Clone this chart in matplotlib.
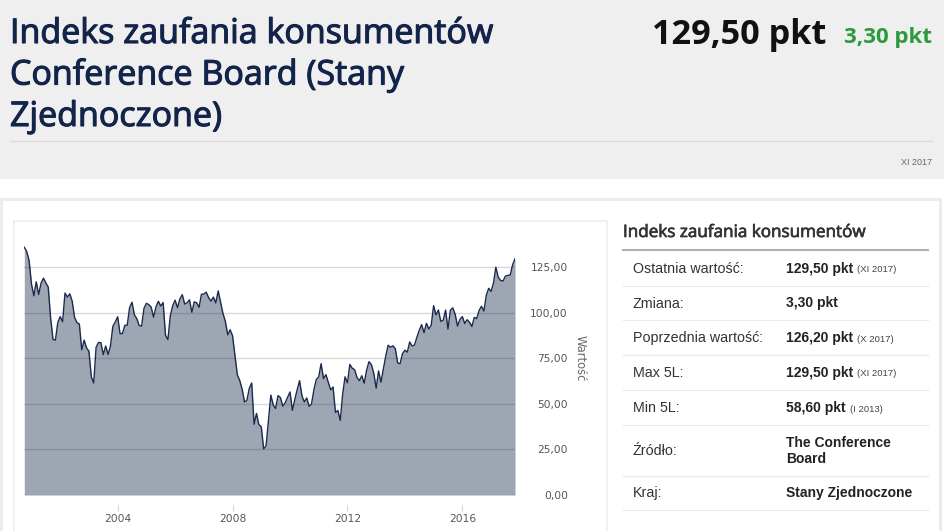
import matplotlib
matplotlib.use("Agg")
import matplotlib.pyplot as plt
import matplotlib.patheffects as pe
from matplotlib.patches import Rectangle
from matplotlib.lines import Line2D
from matplotlib.ticker import FixedLocator, FuncFormatter

W, H = 945, 531

# monthly index values, Oct 2000 .. Nov 2017
START_YEAR, START_MONTH = 2000, 10
VALUES = [
    135.8, 133.5, 128.6,
    115.7, 109.2, 116.9, 109.9, 116.1, 118.9, 116.3, 114.0, 97.0, 85.3, 84.9, 94.6,
    97.8, 95.0, 110.7, 108.5, 110.3, 106.3, 97.4, 94.5, 93.7, 79.6, 84.9, 80.7,
    78.8, 64.8, 61.4, 81.0, 83.6, 83.5, 77.0, 81.7, 77.0, 81.7, 92.5, 94.8,
    97.7, 88.5, 88.5, 93.0, 93.1, 102.8, 105.7, 98.7, 96.7, 92.9, 92.6, 102.3,
    105.1, 104.4, 103.0, 97.5, 103.1, 106.2, 103.6, 105.5, 87.5, 85.2, 98.3, 103.8,
    106.8, 102.7, 107.5, 109.8, 104.7, 105.4, 107.0, 100.2, 105.9, 105.4, 102.9, 110.0,
    110.2, 111.2, 108.2, 106.3, 108.5, 105.3, 111.9, 105.6, 99.5, 95.2, 87.8, 90.6,
    87.3, 76.4, 65.9, 62.8, 58.1, 51.0, 51.9, 58.5, 61.4, 38.8, 44.7, 38.6,
    37.4, 25.3, 26.9, 40.8, 54.8, 49.3, 47.4, 54.5, 53.4, 48.7, 50.6, 53.6,
    56.5, 46.4, 52.3, 57.7, 62.7, 54.3, 51.0, 53.2, 48.6, 49.9, 57.8, 63.4,
    64.8, 72.0, 63.8, 66.0, 61.7, 57.6, 59.2, 45.2, 46.4, 40.9, 55.2, 64.8,
    61.5, 71.6, 69.5, 68.7, 64.4, 62.7, 65.4, 61.3, 68.4, 73.1, 71.5, 66.7,
    58.6, 68.0, 61.9, 69.0, 76.2, 82.1, 81.0, 81.8, 80.2, 72.4, 72.0, 77.5,
    79.4, 78.3, 83.9, 81.7, 82.2, 86.4, 90.3, 93.4, 89.0, 94.1, 91.0, 93.1,
    103.8, 98.8, 101.4, 95.2, 95.8, 101.4, 91.0, 101.3, 102.6, 99.1, 92.6, 96.3,
    97.8, 94.0, 96.1, 94.7, 92.4, 97.4, 96.7, 101.1, 103.5, 100.8, 109.4, 113.3,
    111.6, 116.1, 124.9, 119.4, 117.6, 117.3, 120.0, 120.4, 120.6, 126.2, 129.5,
]

TITLE_LINES = ["Indeks zaufania konsumentów", "Conference Board (Stany", "Zjednoczone)"]
LAST_VALUE = "129,50 pkt"
CHANGE = "3,30 pkt"
PERIOD = "XI 2017"

Y_TICKS = [0, 25, 50, 75, 100, 125]
X_TICKS = [2004, 2008, 2012, 2016]
Y_LABEL = "Wartość"

TABLE_TITLE = "Indeks zaufania konsumentów"
ROW_LABELS = ["Ostatnia wartość:", "Zmiana:", "Poprzednia wartość:", "Max 5L:",
              "Min 5L:", "Źródło:", "Kraj:"]
ROW_VALUES = ["129,50 pkt", "3,30 pkt", "126,20 pkt", "129,50 pkt", "58,60 pkt",
              "The Conference\nBoard", "Stany Zjednoczone"]
ROW_NOTES = ["(XI 2017)", "", "(X 2017)", "(XI 2017)", "(I 2013)", "", ""]

# layout in pixels
ROW_LINES = [250, 285.5, 319.5, 354.5, 389.5, 424.5, 475.5, 509.5]

NAVY = "#13244a"
TITLE_FONT = ["Open Sans", "DejaVu Sans"]
TABLE_FONT = ["Liberation Sans", "DejaVu Sans"]


def fx(x):
    return x / W


def fy(y):
    return 1 - y / H


def prect(fig, x0, y0, x1, y1, **kw):
    fig.patches.append(Rectangle((fx(x0), fy(y1)), (x1 - x0) / W, (y1 - y0) / H,
                                 transform=fig.transFigure, **kw))


def hline(fig, x0, x1, y, **kw):
    fig.lines.append(Line2D([fx(x0), fx(x1)], [fy(y), fy(y)],
                            transform=fig.transFigure, **kw))


def medium(color, width):
    # fake a medium weight: regular glyphs with a thin outline
    return [pe.withStroke(linewidth=width, foreground=color)]


def main():
    fig = plt.figure(figsize=(W / 100, H / 100), dpi=100)
    fig.patch.set_facecolor("white")

    # header band
    prect(fig, 0, 0, W, 179, facecolor="#efefef", edgecolor="none")
    hline(fig, 10, 932, 140.5, color="#d9d9d9", lw=0.8)
    for i, line in enumerate(TITLE_LINES):
        fig.text(fx(10), fy(43 + i * 41.5), line, family=TITLE_FONT,
                 fontsize=24.5, color=NAVY, va="baseline", ha="left",
                 path_effects=medium(NAVY, 0.8))
    fig.text(fx(932), fy(43), CHANGE, family=TITLE_FONT, weight="bold",
             fontsize=16, color="#2a9a3c", va="baseline", ha="right")
    fig.text(fx(826), fy(44), LAST_VALUE, family=TITLE_FONT, weight="bold",
             fontsize=24.7, color="#111111", va="baseline", ha="right")
    fig.text(fx(932), fy(162), PERIOD, family=TABLE_FONT, fontsize=6.5,
             color="#666666", va="center", ha="right")

    # panels
    prect(fig, 1.5, 198.5, 940, 545, facecolor="none", edgecolor="#ececec", lw=2.2)
    prect(fig, 14, 221, 607, 545, facecolor="none", edgecolor="#eeeeee", lw=1.2)

    # chart
    x0, x1, y_zero, px_per_unit, ymax = 24.3, 515, 495, 1.824, 140
    ax = fig.add_axes([fx(x0), fy(y_zero), (x1 - x0) / W, ymax * px_per_unit / H])
    xs = [START_YEAR + (START_MONTH - 1) / 12 + i / 12 for i in range(len(VALUES))]
    ax.fill_between(xs, VALUES, 0, color="#1b2b4b", alpha=0.42, lw=0, zorder=1)
    ax.plot(xs, VALUES, color="#1a2a4c", lw=1.0, zorder=2)
    ax.set_xlim(xs[0], xs[-1])
    ax.set_ylim(0, ymax)

    ax.yaxis.set_major_locator(FixedLocator(Y_TICKS))
    ax.yaxis.set_major_formatter(FuncFormatter(lambda v, p: f"{v:.2f}".replace(".", ",")))
    ax.yaxis.tick_right()
    ax.tick_params(axis="y", length=0, pad=38, labelsize=7.7, labelcolor="#555555")
    for lab in ax.get_yticklabels():
        lab.set_horizontalalignment("right")
    ax.grid(axis="y", color="#d8d8d8", lw=1.0)
    ax.set_axisbelow(True)

    ax.xaxis.set_major_locator(FixedLocator(X_TICKS))
    ax.xaxis.set_major_formatter(FuncFormatter(lambda v, p: f"{int(v)}"))
    ax.spines["bottom"].set_position(("outward", 7.2))
    ax.tick_params(axis="x", length=4.3, width=0.8, color="#ccd6eb", pad=2.5,
                   labelsize=7.7, labelcolor="#555555")
    for s in ax.spines.values():
        s.set_visible(False)
    ax.set_facecolor("white")

    fig.text(fx(580), fy(358), Y_LABEL, rotation=270, fontsize=8.3, color="#666666",
             ha="center", va="center")

    # side table
    fig.text(fx(623), fy(233), TABLE_TITLE, family=TITLE_FONT,
             fontsize=12.3, color="#333333", va="center", ha="left",
             path_effects=medium("#333333", 0.5))
    hline(fig, 623, 928, ROW_LINES[0], color="#b0b0b0", lw=1.5)
    for y in ROW_LINES[1:]:
        hline(fig, 623, 928, y, color="#e9e9e9", lw=0.8)

    fig.canvas.draw()
    renderer = fig.canvas.get_renderer()
    for i, (lab, val, note) in enumerate(zip(ROW_LABELS, ROW_VALUES, ROW_NOTES)):
        yc = (ROW_LINES[i] + ROW_LINES[i + 1]) / 2 + 1
        fig.text(fx(633), fy(yc), lab, family=TABLE_FONT, fontsize=10.3,
                 color="#333333", va="center", ha="left")
        t = fig.text(fx(786), fy(yc), val, family=TABLE_FONT, fontsize=10,
                     weight="bold", color="#222222", va="center", ha="left",
                     linespacing=1.2)
        if note:
            bb = t.get_window_extent(renderer)
            fig.text((bb.x1 + 4) / W, fy(yc + 1), note, family=TABLE_FONT,
                     fontsize=6.8, color="#444444", va="center", ha="left")

    fig.savefig("out.png", dpi=100)
    plt.close(fig)


if __name__ == "__main__":
    main()
